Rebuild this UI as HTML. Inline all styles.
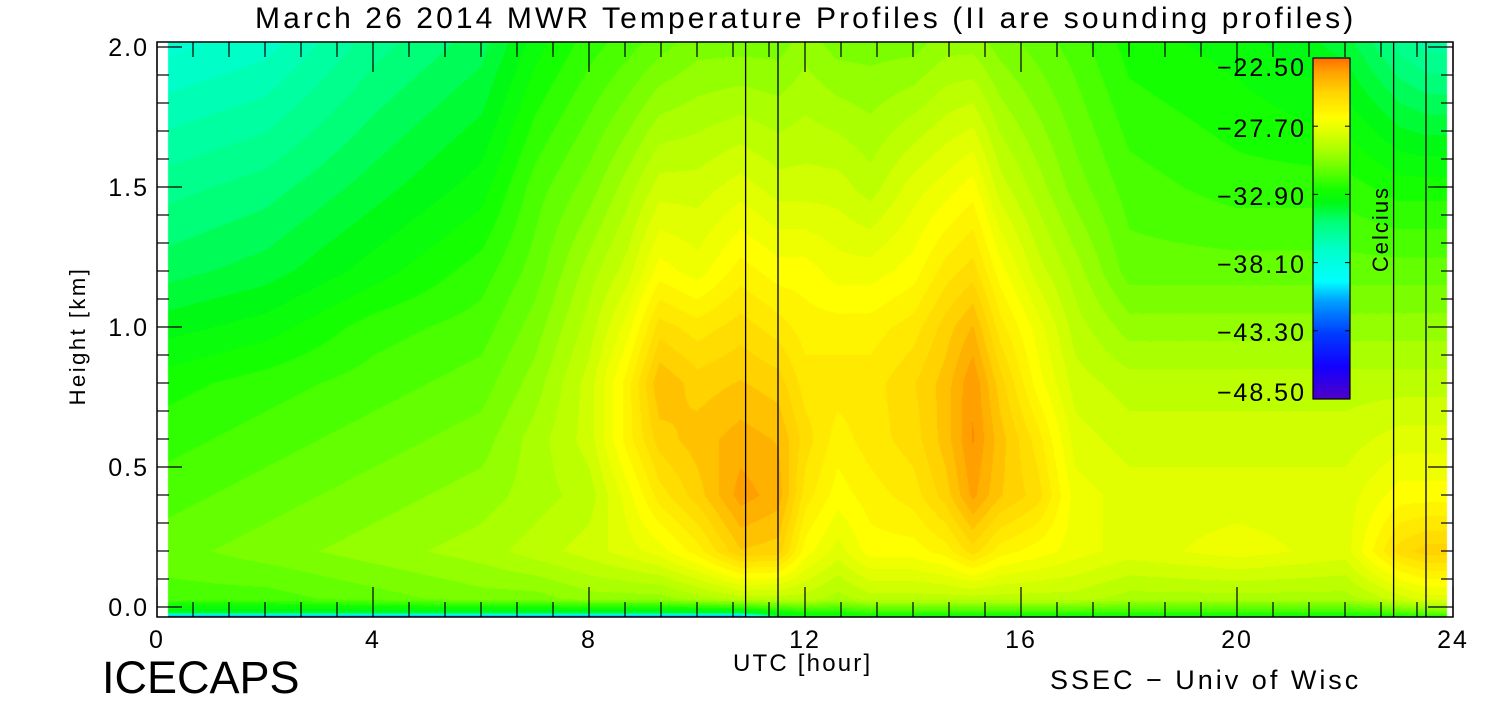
<!DOCTYPE html>
<html><head><meta charset="utf-8"><style>
body{margin:0;background:#fff;width:1500px;height:700px;overflow:hidden;position:relative;font-family:"Liberation Sans",sans-serif;}
.t{position:absolute;color:#000;white-space:nowrap;}
canvas{position:absolute;left:0;top:0;}
</style></head><body>
<canvas id="c" width="1500" height="700"></canvas>
<svg id="s" width="1500" height="700" style="position:absolute;left:0;top:0"></svg>
<div class="t" style="left:255px;top:2px;font-size:30px;letter-spacing:3.1px">March 26 2014 MWR Temperature Profiles (II are sounding profiles)</div>
<div class="t" style="left:733px;top:650px;font-size:24px;letter-spacing:2.2px">UTC [hour]</div>
<div class="t" style="left:8px;top:323px;font-size:22px;letter-spacing:2.5px;transform:rotate(-90deg);transform-origin:center;width:140px;text-align:center">Height [km]</div>
<div class="t" style="left:102px;top:652px;font-size:45px;letter-spacing:0px">ICECAPS</div>
<div class="t" style="left:1050px;top:665px;font-size:27px;letter-spacing:3px">SSEC − Univ of Wisc</div>
<div class="t" style="left:1326px;top:216px;font-size:22px;letter-spacing:2px;transform:rotate(-90deg);transform-origin:center;width:110px;text-align:center">Celcius</div>
<script>
const times=[0,2,4,6,7,8,8.7,9.3,10,10.8,11.5,12,12.6,13.2,14,14.6,15.1,15.6,16.3,17,18,20,22,23,23.5,24];
const heights=[-0.036,-0.02,0.03,0.2,0.4,0.6,0.8,1.0,1.2,1.5,2.02];
const temps=[
[-45,-34,-31.5,-31,-31.5,-32,-32.5,-33.5,-34.5,-35.5,-37.5],
[-45,-34,-31.5,-30.5,-31,-31.5,-32,-33,-34,-35,-37],
[-45,-34,-31,-30,-30.5,-31,-31.5,-32,-33,-34,-35.5],
[-45,-34,-30.5,-29.5,-30,-30.5,-31,-31.5,-32,-33,-34.5],
[-45,-34,-30.5,-29,-29.5,-29.5,-30,-30.5,-31,-31.5,-33],
[-45,-34,-30,-28.5,-29,-28.5,-28.5,-29,-29.5,-30.5,-32],
[-45,-34,-30,-28,-27.5,-26.5,-26.5,-27.5,-28.5,-29.5,-31.5],
[-45,-34,-30,-27.5,-26,-25,-24.3,-25.5,-27,-28.5,-31],
[-45,-34,-29.5,-26.5,-25,-24.5,-25,-26,-27.5,-28.5,-30.5],
[-45,-34,-29,-24.8,-23.5,-24,-24.7,-25.5,-26.5,-28,-30.5],
[-34,-33,-29,-25,-24,-24.3,-25,-26,-27,-28.5,-30.5],
[-33,-32.5,-29,-27,-26,-25.5,-26,-26.5,-27,-28.5,-30],
[-33,-32.5,-29.5,-28,-27,-26.5,-26,-26.5,-27.5,-28.5,-30.5],
[-33,-32,-29,-27,-26.5,-26,-26,-26.5,-27.5,-29,-30.5],
[-33,-32,-29,-27,-26,-25.5,-25.3,-26,-27,-28,-30.5],
[-33,-32,-29,-26.5,-25,-24.5,-24.5,-25,-26,-27.5,-30],
[-33,-32,-29,-25.5,-23.6,-23.2,-23.3,-24.2,-25.5,-27,-30],
[-33,-32,-29,-26.5,-24.7,-24.5,-25,-26,-27,-28.5,-30.5],
[-33,-32,-29,-27,-25.5,-26,-27,-27.5,-28.5,-29.5,-31],
[-33,-32,-29,-27.5,-27.5,-28,-28.5,-29,-29.5,-30.5,-31.5],
[-33,-32,-29.5,-28,-28,-28.5,-29,-30,-31,-31.5,-32.5],
[-33,-32,-29.5,-27.5,-28,-28.5,-29,-30,-31,-32,-33],
[-33,-32,-29.5,-28,-28,-28.5,-29,-30,-31,-32,-34],
[-33,-31.5,-28.5,-25.5,-27,-28,-29,-30,-31,-32.5,-35.5],
[-33,-31,-28,-25,-27,-28,-29,-30,-31,-32.5,-36],
[-33,-31,-28,-25,-27,-28,-29,-30,-31,-32.5,-36]];
const soundings=[10.9,11.5,22.9,23.5];
const xTicks=[0,4,8,12,16,20,24];
const yTicks=[0,0.5,1.0,1.5,2.0];
const cbTicks=[-22.5,-27.7,-32.9,-38.1,-43.3,-48.5];
const stops=[[-48.5,80,0,200],[-46,20,0,255],[-43.5,0,60,255],[-41,0,160,255],[-39.5,0,255,255],[-37,0,255,200],[-35,0,255,120],[-33.5,0,250,20],[-32.5,20,255,0],[-31,100,255,0],[-29.5,170,255,0],[-28,225,255,0],[-27,255,255,0],[-25,255,210,0],[-23.5,255,160,0],[-22.5,255,110,0]];
function cmap(v){if(v<=stops[0][0])return stops[0].slice(1);for(let i=1;i<stops.length;i++){if(v<=stops[i][0]){const a=stops[i-1],b=stops[i],f=(v-a[0])/(b[0]-a[0]);return [0,1,2].map(k=>Math.round(a[k+1]+f*(b[k+1]-a[k+1])));}}return stops[stops.length-1].slice(1);}
const X=h=>157+h*54, Y=k=>607-280*k;
const Xi=px=>(px-157)/54, Yi=py=>(607-py)/280;
function seg(arr,v){for(let i=0;i<arr.length-1;i++)if(v<=arr[i+1])return i;return arr.length-2;}
const cv=document.getElementById('c'),ctx=cv.getContext('2d');
const img=ctx.createImageData(1500,700);
for(let py=42;py<617;py++){const k=Yi(py);const j=seg(heights,k);const fy=Math.max(0,Math.min(1,(k-heights[j])/(heights[j+1]-heights[j])));
for(let px=168;px<1447;px++){const h=Xi(px);const i=seg(times,h);const fx=Math.max(0,Math.min(1,(h-times[i])/(times[i+1]-times[i])));
let v=(1-fx)*(1-fy)*temps[i][j]+fx*(1-fy)*temps[i+1][j]+(1-fx)*fy*temps[i][j+1]+fx*fy*temps[i+1][j+1];
v=Math.round(v*2)/2;const c=cmap(v);const o=(py*1500+px)*4;img.data[o]=c[0];img.data[o+1]=c[1];img.data[o+2]=c[2];img.data[o+3]=255;}}
for(let py=58;py<399;py++){const v=-22.5-(py-58)/341*26;const c=cmap(v);for(let px=1313;px<1350;px++){const o=(py*1500+px)*4;img.data[o]=c[0];img.data[o+1]=c[1];img.data[o+2]=c[2];img.data[o+3]=255;}}
ctx.putImageData(img,0,0);
const s=document.getElementById('s');const NS='http://www.w3.org/2000/svg';
function el(t,a){const e=document.createElementNS(NS,t);for(const k in a)e.setAttribute(k,a[k]);s.appendChild(e);return e;}
const frame=el('rect',{x:157,y:42,width:1296,height:575,fill:'none',stroke:'#000','stroke-width':1.5});


soundings.forEach(h=>{const l=el('line',{x1:X(h),x2:X(h),y1:42,y2:617,stroke:'#000','stroke-width':1.3});

});
for(let h=0;h<=24.01;h+=2/3){const major=Math.abs(h/4-Math.round(h/4))<0.01;const L=major?30:15;
el('line',{x1:X(h),x2:X(h),y1:617,y2:617-L,stroke:'#000','stroke-width':1.2});el('line',{x1:X(h),x2:X(h),y1:42,y2:42+L,stroke:'#000','stroke-width':1.2});}
for(let k=0;k<=2.001;k+=0.1){const major=Math.abs(k*2-Math.round(k*2))<0.01;const L=major?25:12;
el('line',{x1:157,x2:157+L,y1:Y(k),y2:Y(k),stroke:'#000','stroke-width':1.2});el('line',{x1:1453,x2:1453-L,y1:Y(k),y2:Y(k),stroke:'#000','stroke-width':1.2});}
xTicks.forEach(h=>{const t=el('text',{x:X(h),y:648,'text-anchor':'middle','font-size':25,'letter-spacing':2,'font-family':'Liberation Sans'});t.textContent=h;

});
yTicks.forEach(k=>{const t=el('text',{x:149,y:Y(k)+9,'text-anchor':'end','font-size':25,'letter-spacing':2,'font-family':'Liberation Sans'});t.textContent=k.toFixed(1);

});
const cbY=v=>58+(-22.5-v)/26*341;
const cb=el('rect',{x:1313,y:58,width:37,height:341,fill:'none',stroke:'#000','stroke-width':1.2});


cbTicks.forEach((v,i)=>{const yy=cbY(v);el('line',{x1:1313,x2:1318,y1:yy,y2:yy,stroke:'#000'});el('line',{x1:1345,x2:1350,y1:yy,y2:yy,stroke:'#000'});
const t=el('text',{x:1306,y:[76,137,205,273,341,401][i],'text-anchor':'end','font-size':25,'letter-spacing':2,'font-family':'Liberation Sans'});t.textContent='−'+Math.abs(v).toFixed(2);

});
</script>
</body></html>
